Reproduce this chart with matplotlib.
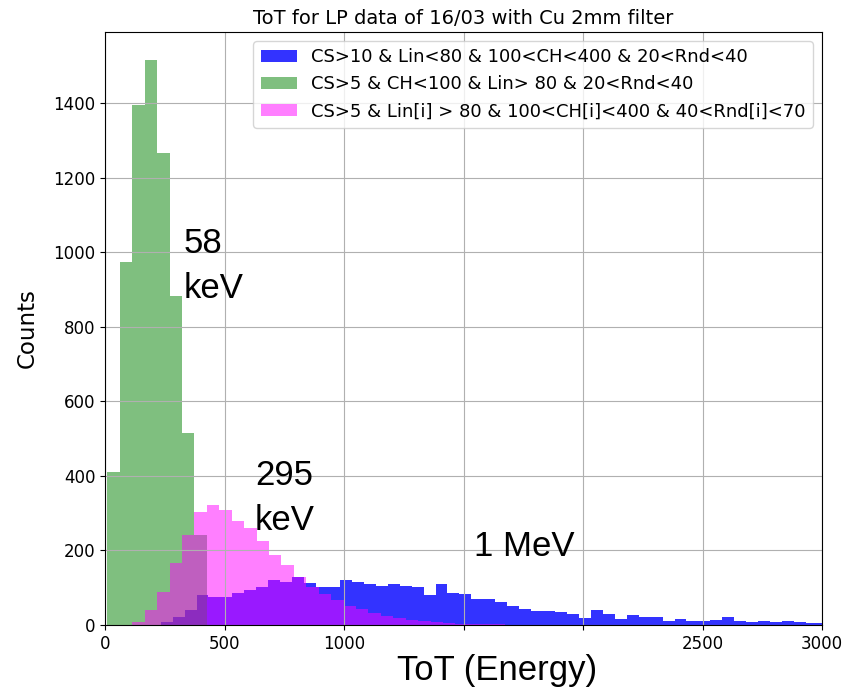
import numpy as np
import matplotlib
matplotlib.use("Agg")
import matplotlib.pyplot as plt

# ---------------- data ----------------
title = "ToT for LP data of 16/03 with Cu 2mm filter"
labels = [
    "CS>10 & Lin<80 & 100<CH<400 & 20<Rnd<40",
    "CS>5 & CH<100 & Lin> 80 & 20<Rnd<40",
    "CS>5 & Lin[i] > 80 & 100<CH[i]<400 & 40<Rnd[i]<70",
]

# blue series: bins start at 233, width 50
blue_start, blue_width = 233, 50
blue_counts = [9, 21, 40, 80, 76, 76, 85, 94, 103, 121,
               116, 128, 113, 101, 101, 120, 115, 110, 105, 109,
               105, 101, 80, 110, 85, 82, 69, 69, 63, 52,
               44, 38, 38, 34, 29, 20, 40, 29, 16, 27,
               22, 22, 12, 16, 12, 12, 13, 21, 11, 7,
               11, 7, 11, 7, 5, 5]

# green and magenta series: bins start at 10, width 52
gm_start, gm_width = 10, 52
green_counts = [410, 975, 1395, 1515, 1265, 883, 515, 241]
pink_counts = [0, 0, 9, 40, 89, 166, 241, 303, 322, 309,
               280, 260, 226, 188, 160, 128, 102, 84, 68, 52,
               42, 33, 25, 19, 14, 10, 7, 5, 4, 3,
               2, 2, 1, 1]

xticks = [0, 500, 1000, 1500, 2000, 2500, 3000]
xticklabels = ["0", "500", "1000", "", "", "2500", "3000"]
yticks = [0, 200, 400, 600, 800, 1000, 1200, 1400]

annotations = [("58\nkeV", 327, 1067), ("295\nkeV", 627, 444), ("1 MeV", 1544, 255)]


def edges(start, width, n):
    return start + width * np.arange(n + 1)


# ---------------- figure ----------------
fig = plt.figure(figsize=(8.5, 6.88), dpi=100)
ax = fig.add_axes([105 / 850, 63 / 688, 717 / 850, 593 / 688])

ax.stairs(blue_counts, edges(blue_start, blue_width, len(blue_counts)),
          fill=True, color="blue", alpha=0.8, label=labels[0])
ax.stairs(green_counts, edges(gm_start, gm_width, len(green_counts)),
          fill=True, color="green", alpha=0.5, label=labels[1])
ax.stairs(pink_counts, edges(gm_start, gm_width, len(pink_counts)),
          fill=True, color="magenta", alpha=0.5, label=labels[2])

ax.set_xlim(0, 3000)
ax.set_ylim(0, max(green_counts) * 1.05)
ax.set_xticks(xticks)
ax.set_xticklabels(xticklabels)
ax.set_yticks(yticks)
ax.tick_params(labelsize=12)
ax.grid(True)

ax.set_title(title, fontsize=14)
ax.set_ylabel("Counts", fontsize=16.5, labelpad=10)

ax.legend(loc="upper right", fontsize=13)

for txt, x, y in annotations:
    ax.text(x, y, txt, fontsize=25, family="Liberation Sans", va="top",
            ha="left", linespacing=1.45)

fig.text(497 / 850, 8 / 688, "ToT (Energy)", fontsize=25,
         family="Liberation Sans", ha="center", va="baseline")

fig.savefig("out.png", dpi=100)
